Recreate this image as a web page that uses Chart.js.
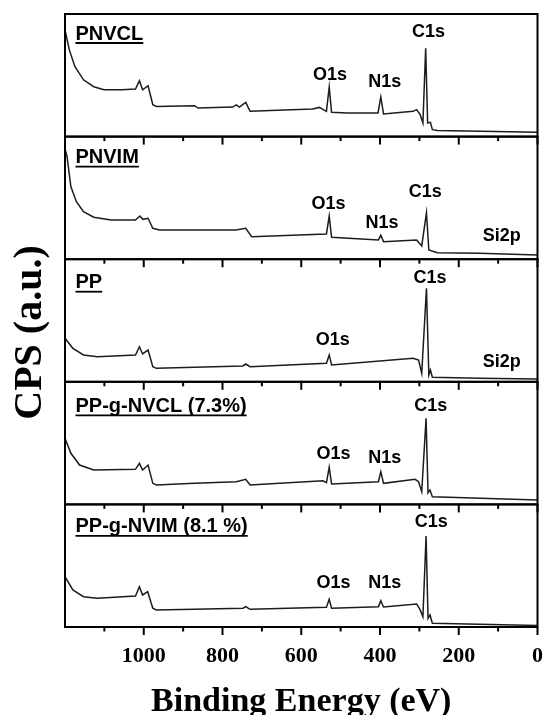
<!DOCTYPE html>
<html lang="en">
<head>
    <meta charset="UTF-8">
    <title>XPS survey spectra</title>
    <style>
        body {
            margin: 0;
            background: #fff;
        }
        #xps {
            display: block;
        }
    </style>
</head>
<body>
    <canvas id="xps" width="544" height="715"></canvas>

    <script src="https://cdn.jsdelivr.net/npm/chart.js"></script>
    <script>
        // sample names, top panel first
        const sampleNames = ['PNVCL', 'PNVIM', 'PP', 'PP-g-NVCL (7.3%)', 'PP-g-NVIM (8.1 %)'];

        // binding energy (eV) and counts (a.u., 0-100 per panel)
        const pnvclEv  = [1200, 1189, 1175, 1153, 1127, 1101, 1056, 1021, 1011, 1003, 989, 977, 968, 871, 862, 774, 765, 757, 741, 730, 571, 554, 536, 529, 523, 484, 405, 398, 391, 316, 307, 298, 291, 284, 279, 272, 267, 254, 0];
        const pnvclCps = [87, 70.7, 57.2, 46.3, 40.7, 38.2, 38.2, 38.8, 45.5, 38.2, 41.5, 26, 24.6, 25.2, 23.3, 24.1, 25.8, 24.1, 27.9, 20.6, 22.5, 23.8, 20.6, 40.4, 19.8, 19.3, 19.3, 32.3, 18.5, 20.6, 22, 17.9, 11.1, 72.1, 11.1, 11.6, 5.7, 4.9, 3.5];

        const pnvimEv  = [1200, 1195, 1185, 1171, 1153, 1127, 1083, 1021, 1010, 1002, 989, 977, 960, 766, 741, 726, 536, 529, 523, 404, 398, 391, 307, 294, 282, 276, 254, 148, 0];
        const pnvimCps = [90, 84, 59.1, 46.9, 38.7, 34.2, 32, 32, 35.2, 32.5, 33.4, 25.2, 23.8, 23.8, 25.2, 18.4, 20.6, 35.2, 17.9, 15.7, 19.5, 14.3, 15.7, 10.8, 37.9, 7.5, 5.3, 4.8, 3.4];

        const ppEv  = [1200, 1180, 1153, 1118, 1021, 1011, 1003, 989, 977, 968, 748, 741, 730, 536, 529, 523, 316, 302, 294, 282, 276, 272, 267, 148, 0];
        const ppCps = [35.5, 27.3, 21.9, 20.5, 21.9, 28.6, 22.7, 25.9, 12.3, 11, 12.9, 14.5, 12.3, 15.1, 21.9, 13.7, 19.2, 17.8, 6.9, 76.3, 5.5, 9.6, 3.7, 2.9, 2.3];

        const ppNvclEv  = [1200, 1185, 1163, 1127, 1021, 1011, 1003, 989, 977, 968, 871, 765, 741, 730, 545, 536, 529, 523, 404, 398, 391, 311, 302, 294, 283, 278, 273, 267, 0];
        const ppNvclCps = [53.9, 41.7, 32.1, 28.1, 28.6, 33.5, 28.1, 32.1, 17.2, 15.8, 17.2, 18.5, 20.5, 15.8, 19.3, 17.7, 30.3, 16.6, 18.5, 26.7, 17.2, 20.5, 18.5, 10.4, 70.2, 9.5, 11.7, 6.3, 3.6];

        const ppNvimEv  = [1200, 1180, 1153, 1118, 1021, 1011, 1003, 990, 977, 968, 748, 741, 730, 536, 529, 523, 404, 398, 391, 307, 298, 291, 283, 278, 273, 267, 0];
        const ppNvimCps = [41, 30.2, 24.7, 23.4, 25.3, 32.9, 26.1, 28.8, 15.3, 13.9, 15.3, 16.6, 14.4, 16.1, 22.6, 15.3, 16.6, 21.5, 16.3, 18.8, 13.9, 8.4, 74.2, 7.1, 9.8, 3, 1.2];

        // peak assignments per panel: name, energy where the label sits, label baseline height
        const peakNames   = [['O1s', 'N1s', 'C1s'], ['O1s', 'N1s', 'C1s', 'Si2p'], ['C1s', 'O1s', 'Si2p'], ['C1s', 'O1s', 'N1s'], ['C1s', 'O1s', 'N1s']];
        const peakLabelEv = [[527, 388, 277], [531, 395, 285, 91], [273, 520, 91], [271, 518, 388], [270, 518, 388]];
        const peakLabelY  = [[46.2, 40.2, 81], [40.7, 25.2, 51, 15.1], [80.7, 30, 12.3], [76.2, 37.4, 33.5], [81.9, 31.6, 31.6]];

        const energyTicks = { min: 0, max: 1200, step: 100 };

        // baseline of each sample name below its panel's top edge (px)
        const nameOffset = [25.5, 26.5, 29, 30, 28];

        const spectra = [
            [pnvclEv, pnvclCps],
            [pnvimEv, pnvimCps],
            [ppEv, ppCps],
            [ppNvclEv, ppNvclCps],
            [ppNvimEv, ppNvimCps]
        ];
        const panelIds = sampleNames.map((_, i) => 'p' + i);

        const datasets = spectra.map(([ev, cps], i) => ({
            label: sampleNames[i],
            data: ev.map((e, k) => ({ x: e, y: cps[k] })),
            yAxisID: panelIds[i],
            borderColor: '#1c1c1c',
            borderWidth: 1.5,
            pointRadius: 0,
            tension: 0,
            fill: false
        }));

        // one stacked y axis per panel; the last one listed lands on top
        const scales = {
            x: {
                type: 'linear',
                position: 'bottom',
                min: energyTicks.min,
                max: energyTicks.max,
                reverse: true,
                afterFit: s => {
                    s.height = 88;
                    s.paddingLeft = 0;
                    s.paddingRight = 0;
                },
                grid: { display: false, drawTicks: false },
                border: { display: false },
                ticks: {
                    stepSize: energyTicks.step,
                    autoSkip: false,
                    maxRotation: 0,
                    padding: 16,
                    color: '#000',
                    font: { family: 'Liberation Serif', size: 22, weight: 'bold' },
                    callback: v => (v % 200 === 0 && v < energyTicks.max) ? String(v) : ''
                }
            }
        };
        panelIds.slice().reverse().forEach(id => {
            scales[id] = {
                type: 'linear',
                position: 'left',
                stack: 'xps',
                stackWeight: 1,
                min: 0,
                max: 100,
                grid: { display: false, drawTicks: false },
                border: { display: false },
                ticks: { display: false }
            };
        });

        const panelDecor = {
            id: 'panelDecor',
            afterDraw(chart) {
                const { ctx, chartArea, scales } = chart;
                const xs = scales.x;
                ctx.save();
                ctx.strokeStyle = '#000';
                ctx.fillStyle = '#000';

                panelIds.forEach((id, i) => {
                    const ys = scales[id];

                    // panel frame
                    ctx.lineWidth = 2;
                    ctx.strokeRect(chartArea.left, ys.top, chartArea.right - chartArea.left, ys.bottom - ys.top);

                    // tick marks hanging under each panel
                    xs.ticks.forEach(t => {
                        if (t.value >= energyTicks.max) return;
                        const px = xs.getPixelForValue(t.value);
                        const len = t.value % 200 === 0 ? 8 : 4.5;
                        ctx.beginPath();
                        ctx.moveTo(px, ys.bottom);
                        ctx.lineTo(px, ys.bottom + len);
                        ctx.stroke();
                    });

                    // sample name, underlined
                    ctx.font = 'bold 20px "Liberation Sans"';
                    ctx.textAlign = 'left';
                    ctx.textBaseline = 'alphabetic';
                    const nx = chartArea.left + 10.5;
                    const ny = ys.top + nameOffset[i];
                    ctx.fillText(sampleNames[i], nx, ny);
                    const w = ctx.measureText(sampleNames[i]).width;
                    ctx.lineWidth = 1.8;
                    ctx.beginPath();
                    ctx.moveTo(nx, ny + 3.5);
                    ctx.lineTo(nx + w, ny + 3.5);
                    ctx.stroke();

                    // peak labels
                    ctx.font = 'bold 18px "Liberation Sans"';
                    ctx.textAlign = 'center';
                    peakNames[i].forEach((name, k) => {
                        ctx.fillText(name, xs.getPixelForValue(peakLabelEv[i][k]), ys.getPixelForValue(peakLabelY[i][k]));
                    });
                });

                // axis titles
                ctx.font = 'bold 34px "Liberation Serif"';
                ctx.textAlign = 'center';
                ctx.textBaseline = 'alphabetic';
                ctx.fillText('Binding Energy (eV)', (chartArea.left + chartArea.right) / 2, 711);

                ctx.translate(40.5, 332.5);
                ctx.rotate(-Math.PI / 2);
                ctx.font = 'bold 40px "Liberation Serif"';
                ctx.fillText('CPS (a.u.)', 0, 0);
                ctx.restore();
            }
        };

        new Chart(document.getElementById('xps').getContext('2d'), {
            type: 'line',
            data: { datasets },
            options: {
                responsive: false,
                animation: false,
                layout: { padding: { left: 65, right: 6.5, top: 14, bottom: 0 } },
                plugins: {
                    legend: { display: false },
                    tooltip: { enabled: false }
                },
                scales
            },
            plugins: [panelDecor]
        });
    </script>
</body>
</html>
